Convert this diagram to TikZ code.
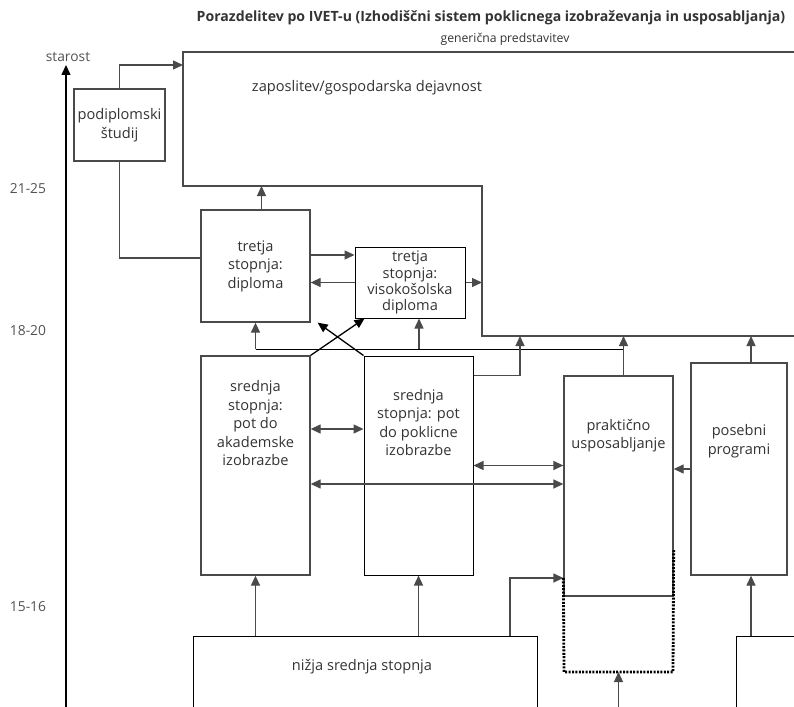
\documentclass[tikz,border=0pt]{standalone}
\usepackage{fontspec}
\setmainfont{Open Sans}
\usepackage{tikz}
\usetikzlibrary{arrows.meta}

\definecolor{linegray}{HTML}{4A4A4A}
\definecolor{textgray}{HTML}{333333}

\begin{document}
\begin{tikzpicture}[x=1pt,y=-1pt,
    box/.style={draw=linegray, line width=1.3pt, inner sep=0pt},
    boxk/.style={draw=black, line width=1pt, inner sep=0pt},
    txt/.style={align=center, text=textgray, font=\fontsize{14.6}{18.5}\selectfont},
    age/.style={text=textgray!85, font=\fontsize{13.8}{15}\selectfont},
    link/.style={draw=linegray, line width=1.3pt},
    arr/.style={link, -{Triangle[length=10pt,width=9pt]}},
    darr/.style={link, {Triangle[length=10pt,width=9pt]}-{Triangle[length=10pt,width=9pt]}},
    dotbox/.style={draw=black, line width=2.8pt, dash pattern=on 2pt off 1.4pt}]
	\useasboundingbox (0,0) rectangle (794,706);
	\clip (0,0) rectangle (794,706);

	% title
	\node[text=textgray, font=\bfseries\fontsize{14.1}{16}\selectfont] (title) at (491,18) {Porazdelitev po IVET-u (Izhodiščni sistem poklicnega izobraževanja in usposabljanja)};
	\node[txt, font=\fontsize{12.2}{14}\selectfont] (subtitle) at (505,39) {generična predstavitev};

	% age axis
	\coordinate (ax0) at (66,710);
	\coordinate (ax1) at (66,65);
	\draw[arr, draw=black] (ax0) -- (ax1);
	\node[age] (starost) at (68,57) {starost};
	\node[age] (a1) at (28,189) {21-25};
	\node[age] (a2) at (28,331) {18-20};
	\node[age] (a3) at (28,607) {15-16};

	% employment
	\coordinate (empin) at (183,65);
	\coordinate (ebot) at (183,186);
	\coordinate (ebot2) at (482,336);
	\draw[box] (800,52) -| (ebot) -| (ebot2) -- (800,336);
	\node[txt] (emp) at (367,88) {zaposlitev/gospodarska dejavnost};

	% boxes
	\node[box, txt, minimum width=91pt, minimum height=72pt] (pod) at (119.5,125) {podiplomski\\študij};
	\node[box, txt, minimum width=109pt, minimum height=112pt] (tdip) at (255.5,266) {tretja\\stopnja:\\diploma};
	\node[boxk, txt, minimum width=110pt, minimum height=71pt, font=\fontsize{14.6}{16.2}\selectfont] (visk) at (410,282.5) {tretja\\stopnja:\\visokošolska\\diploma};
	\node[box, minimum width=109pt, minimum height=219pt] (akad) at (255.5,465.5) {};
	\node[txt] (akadt) at (255.5,423.5) {srednja\\stopnja:\\pot do\\akademske\\izobrazbe};
	\node[boxk, minimum width=109pt, minimum height=219pt] (pokl) at (418.5,465.5) {};
	\node[txt] (poklt) at (418.5,422.5) {srednja\\stopnja: pot\\do poklicne\\izobrazbe};
	\node[box, minimum width=109pt, minimum height=220pt] (prak) at (618.5,486) {};
	\node[txt] (prakt) at (618.5,435.5) {praktično\\usposabljanje};
	\node[box, minimum width=96pt, minimum height=212pt] (pos) at (739,469) {};
	\node[txt] (post) at (739,441) {posebni\\programi};
	\node[boxk, minimum width=344pt, minimum height=140pt, anchor=north] (niz) at (365,636) {};
	\node[txt] (nizt) at (362,667) {nižja srednja stopnja};
	\node[boxk, minimum width=140pt, minimum height=140pt, anchor=north west] (nxt) at (736,636) {};

	% upper connectors
	\draw[arr] (pod.north) |- (empin);
	\draw[link] (pod.south) |- ([yshift=8pt]tdip.west);
	\draw[arr] ([xshift=6pt]tdip.north) -- ([xshift=6pt]tdip.north |- ebot);
	\draw[arr] ([yshift=11pt]tdip.east) -- ([yshift=11pt]tdip.east -| visk.west);
	\draw[arr] (visk.west) -- (visk.west -| tdip.east);
	\draw[arr] (visk.east) -- (visk.east -| ebot2);

	% from secondary level
	\coordinate (bus) at (0,349);
	\draw[link, draw=black, line width=1pt] (tdip.south |- bus) -- ([xshift=5pt]prak.north |- bus);
	\draw[arr] (tdip.south |- bus) -- (tdip.south);
	\draw[arr] ([xshift=9pt]visk.south |- bus) -- ([xshift=9pt]visk.south);
	\draw[arr] ([xshift=5pt]prak.north) -- ([xshift=5pt]prak.north |- ebot2);
	\draw[arr, draw=black] (akad.north east) -- ([xshift=10pt]visk.south west);
	\draw[arr, draw=black] (pokl.north west) -- ([xshift=7pt]tdip.south east);
	\draw[arr] ([yshift=-20pt]pokl.north east) -| ([xshift=38pt]ebot2);
	\draw[darr] ([yshift=36.5pt]akad.east) -- ([yshift=36.5pt]akad.east -| pokl.west);
	\draw[darr] (pokl.east) -- (pokl.east -| prak.west);
	\draw[darr] ([yshift=-18.5pt]akad.east) -- ([yshift=-18.5pt]akad.east -| prak.west);
	\draw[arr] (pos.west) -- (pos.west -| prak.east);
	\draw[arr] ([xshift=12pt]pos.north) -- ([xshift=12pt]pos.north |- ebot2);

	% from lower secondary
	\draw[arr] (akad.south |- niz.north) -- (akad.south);
	\draw[arr] (pokl.south |- niz.north) -- (pokl.south);
	\draw[arr] ([xshift=145pt]niz.north) |- ([yshift=-92pt]prak.west);
	\draw[arr] ([xshift=12pt]pos.south |- nxt.north) -- ([xshift=12pt]pos.south);

	% dotted extension
	\coordinate (dotsw) at (564,672);
	\coordinate (dotse) at (673,672);
	\coordinate (dotb) at (618.5,672);
	\coordinate (pin) at (618.5,710);
	\draw[dotbox] ([yshift=-92pt]prak.west) -- (dotsw) -- (dotse) -- ([yshift=-64pt]prak.east);
	\draw[arr] (pin) -- (dotb);
\end{tikzpicture}
\end{document}
